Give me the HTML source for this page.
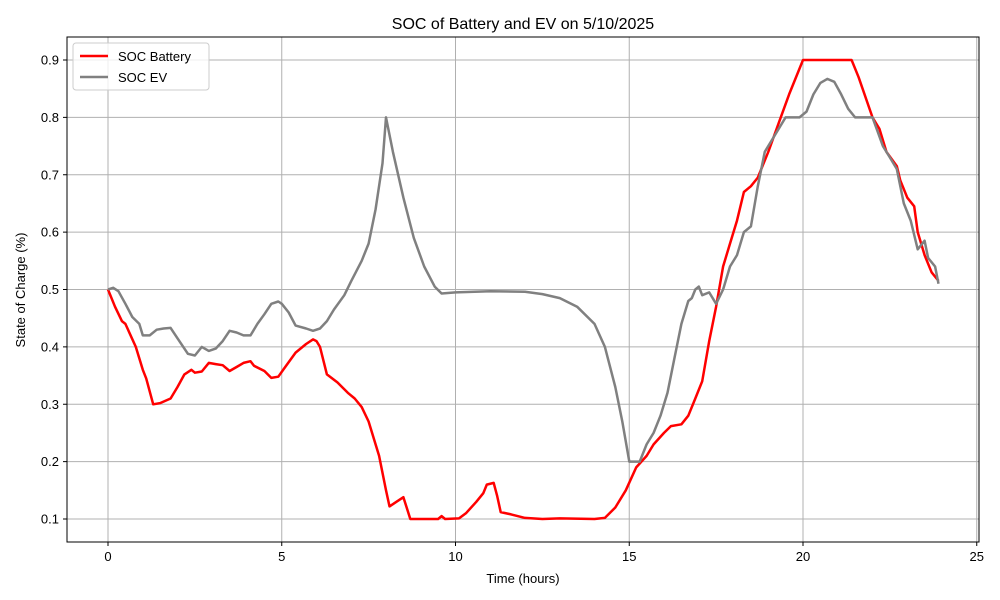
<!DOCTYPE html>
<html><head><meta charset="utf-8"><style>
body{margin:0;background:#fff;font-family:"Liberation Sans","DejaVu Sans",sans-serif}
svg{display:block}
</style></head><body>
<svg id="chart" width="1000" height="600" xmlns="http://www.w3.org/2000/svg">
<rect width="1000" height="600" fill="#fff"/>
<g id="grid"></g>
<g id="series"></g>
<rect x="67" y="37" width="912" height="505" fill="none" stroke="#000" stroke-width="1"/>
<g id="axes" font-size="13" fill="#000"></g>
<text x="523" y="29" text-anchor="middle" font-size="16">SOC of Battery and EV on 5/10/2025</text>
<text x="523" y="583" text-anchor="middle" font-size="13">Time (hours)</text>
<text transform="translate(25,290) rotate(-90)" text-anchor="middle" font-size="13">State of Charge (%)</text>
<g>
<rect x="73" y="43" width="136" height="47" rx="3" fill="#fff" fill-opacity="0.8" stroke="#ccc"/>
<line x1="80" y1="56" x2="108" y2="56" stroke="red" stroke-width="2.5"/>
<text x="118" y="61" font-size="13">SOC Battery</text>
<line x1="80" y1="77" x2="108" y2="77" stroke="#808080" stroke-width="2.5"/>
<text x="118" y="82" font-size="13">SOC EV</text>
</g>
</svg>
<script>
const xTicks=[0,5,10,15,20,25];
const yTicks=[0.1,0.2,0.3,0.4,0.5,0.6,0.7,0.8,0.9];
const batT=[0,0.2,0.4,0.5,0.8,1.0,1.1,1.3,1.5,1.8,2.0,2.2,2.4,2.5,2.7,2.9,3.1,3.3,3.5,3.7,3.9,4.1,4.2,4.5,4.7,4.9,5.1,5.4,5.7,5.9,6.0,6.1,6.3,6.6,6.9,7.1,7.3,7.5,7.8,8.0,8.1,8.3,8.5,8.7,9.0,9.5,9.6,9.7,10.1,10.3,10.6,10.8,10.9,11.1,11.2,11.3,11.6,12.0,12.5,13.0,14.0,14.3,14.6,14.9,15.2,15.5,15.7,16.0,16.2,16.5,16.7,16.9,17.1,17.3,17.5,17.7,17.9,18.1,18.3,18.5,18.7,19.0,19.3,19.6,20.0,21.4,21.6,22.0,22.2,22.4,22.7,22.8,23.0,23.2,23.3,23.5,23.7,23.9];
const batV=[0.50,0.47,0.445,0.44,0.40,0.36,0.345,0.30,0.302,0.31,0.33,0.352,0.36,0.355,0.357,0.372,0.37,0.368,0.358,0.365,0.372,0.375,0.367,0.358,0.346,0.348,0.365,0.39,0.405,0.413,0.41,0.40,0.352,0.338,0.32,0.31,0.295,0.27,0.21,0.15,0.122,0.13,0.138,0.10,0.10,0.10,0.105,0.10,0.101,0.11,0.13,0.145,0.16,0.163,0.14,0.112,0.108,0.102,0.10,0.101,0.10,0.102,0.12,0.15,0.19,0.21,0.23,0.25,0.262,0.265,0.28,0.31,0.34,0.41,0.47,0.54,0.58,0.62,0.67,0.68,0.695,0.74,0.79,0.84,0.90,0.90,0.87,0.80,0.78,0.74,0.715,0.69,0.66,0.645,0.60,0.56,0.53,0.515];
const evT=[0,0.15,0.3,0.5,0.7,0.9,1.0,1.2,1.4,1.6,1.8,2.0,2.3,2.5,2.7,2.9,3.1,3.3,3.5,3.7,3.9,4.1,4.3,4.5,4.7,4.9,5.0,5.2,5.4,5.7,5.9,6.1,6.3,6.5,6.8,7.0,7.3,7.5,7.7,7.9,8.0,8.2,8.5,8.8,9.1,9.4,9.6,10,11,12,12.5,13,13.5,14,14.3,14.6,14.8,15.0,15.3,15.5,15.7,15.9,16.1,16.3,16.5,16.7,16.8,16.9,17.0,17.1,17.3,17.5,17.7,17.9,18.1,18.3,18.5,18.7,18.9,19.2,19.5,19.9,20.1,20.3,20.5,20.7,20.9,21.1,21.3,21.5,22.0,22.3,22.5,22.7,22.9,23.1,23.3,23.5,23.6,23.8,23.9];
const evV=[0.50,0.503,0.497,0.475,0.452,0.44,0.42,0.42,0.43,0.432,0.433,0.415,0.388,0.385,0.40,0.393,0.397,0.41,0.428,0.425,0.42,0.42,0.44,0.457,0.475,0.479,0.475,0.46,0.437,0.432,0.428,0.432,0.445,0.465,0.49,0.515,0.55,0.58,0.64,0.72,0.80,0.74,0.66,0.59,0.54,0.505,0.493,0.495,0.497,0.496,0.492,0.485,0.47,0.44,0.40,0.33,0.27,0.20,0.20,0.23,0.25,0.28,0.32,0.38,0.44,0.48,0.485,0.50,0.505,0.49,0.495,0.475,0.50,0.54,0.56,0.60,0.61,0.68,0.74,0.77,0.80,0.80,0.81,0.84,0.86,0.867,0.862,0.84,0.815,0.80,0.80,0.75,0.73,0.71,0.65,0.62,0.57,0.585,0.555,0.54,0.51];
const NS="http://www.w3.org/2000/svg";
function sx(t){return 108+t*34.75;}
function sy(v){return 519-(v-0.1)*573.75;}
const grid=document.getElementById('grid'),axes=document.getElementById('axes'),series=document.getElementById('series');
function mk(tag,attrs,parent){const e=document.createElementNS(NS,tag);for(const k in attrs)e.setAttribute(k,attrs[k]);parent.appendChild(e);return e;}
xTicks.forEach(t=>{
 const g=mk('line',{x1:sx(t),x2:sx(t),y1:37,y2:542,stroke:'#b0b0b0','stroke-width':1},grid);
 
 
 const tk=mk('line',{x1:sx(t),x2:sx(t),y1:542,y2:546,stroke:'#000'},axes);
 
 
 const tx=mk('text',{x:sx(t),y:561,'text-anchor':'middle'},axes);tx.textContent=t;
 
 
});
yTicks.forEach(v=>{
 const g=mk('line',{x1:67,x2:979,y1:sy(v),y2:sy(v),stroke:'#b0b0b0','stroke-width':1},grid);
 
 
 const tk=mk('line',{x1:63,x2:67,y1:sy(v),y2:sy(v),stroke:'#000'},axes);
 
 
 const tx=mk('text',{x:59,y:sy(v)+4.5,'text-anchor':'end'},axes);tx.textContent=v.toFixed(1);
 
 
});
function line(T,V,color,name){
 const d=T.map((t,i)=>(i?'L':'M')+sx(t).toFixed(1)+','+sy(V[i]).toFixed(1)).join('');
 const p=mk('path',{d:d,fill:'none',stroke:color,'stroke-width':2.5,'stroke-linejoin':'round'},series);
 
 
}
line(batT,batV,'red','soc-battery-line');
line(evT,evV,'#808080','soc-ev-line');
</script>
</body></html>
